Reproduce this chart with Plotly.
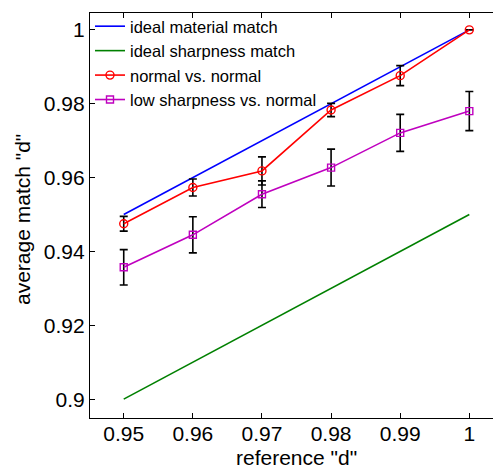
import plotly.graph_objects as go

ref_d = [0.95, 0.96, 0.97, 0.98, 0.99, 1.0]
ideal_material = [0.95, 0.96, 0.97, 0.98, 0.99, 1.0]
ideal_sharpness = [0.90, 0.91, 0.92, 0.93, 0.94, 0.95]
normal_mean = [0.9475, 0.9573, 0.9618, 0.9783, 0.9876, 1.0]
normal_err = [0.0020, 0.0023, 0.0038, 0.0018, 0.0027, 0.0]
lowsharp_mean = [0.9357, 0.9445, 0.9555, 0.9627, 0.9721, 0.9780]
lowsharp_err = [0.0048, 0.0049, 0.0036, 0.0050, 0.0050, 0.0053]

xticks = [0.95, 0.96, 0.97, 0.98, 0.99, 1.0]
xticklabels = ["0.95", "0.96", "0.97", "0.98", "0.99", "1"]
yticks = [0.90, 0.92, 0.94, 0.96, 0.98, 1.0]
yticklabels = ["0.9", "0.92", "0.94", "0.96", "0.98", "1"]
x_title = 'reference "d"'
y_title = 'average match "d"'

FONT = "Liberation Sans, Arial, Helvetica, sans-serif"

fig = go.Figure()
fig.add_trace(go.Scatter(x=ref_d, y=ideal_material, mode="lines",
                         name="ideal material match",
                         line=dict(color="#0000ff", width=1.6)))
fig.add_trace(go.Scatter(x=ref_d, y=ideal_sharpness, mode="lines",
                         name="ideal sharpness match",
                         line=dict(color="#008000", width=1.6)))
fig.add_trace(go.Scatter(x=ref_d, y=normal_mean, mode="lines+markers",
                         name="normal vs. normal",
                         line=dict(color="#ff0000", width=1.6),
                         marker=dict(symbol="circle-open", size=8, color="#ff0000",
                                     line=dict(width=1.4)),
                         error_y=dict(type="data", array=normal_err, visible=True,
                                      color="black", thickness=1.6, width=4)))
fig.add_trace(go.Scatter(x=ref_d, y=lowsharp_mean, mode="lines+markers",
                         name="low sharpness vs. normal",
                         line=dict(color="#bf00bf", width=1.6),
                         marker=dict(symbol="square-open", size=7, color="#bf00bf",
                                     line=dict(width=1.4)),
                         error_y=dict(type="data", array=lowsharp_err, visible=True,
                                      color="black", thickness=1.6, width=4)))

axis_common = dict(showline=True, linecolor="black", linewidth=1.2, mirror="ticks",
                   ticks="inside", ticklen=5, tickcolor="black", tickwidth=1,
                   showgrid=False, zeroline=False, automargin=False,
                   tickfont=dict(family=FONT, size=21, color="black"))

# page body has an 8px margin, so the figure is sized/offset to compensate
fig.update_layout(
    width=493, height=460,
    margin=dict(l=82, r=3, t=1, b=50),
    paper_bgcolor="white", plot_bgcolor="white",
    font=dict(family=FONT, color="black"),
    showlegend=True,
    legend=dict(x=0.0, y=1.01, xanchor="left", yanchor="top",
                bgcolor="rgba(255,255,255,0)", borderwidth=0,
                font=dict(family=FONT, size=16.5, color="black"),
                tracegroupgap=0, itemwidth=30),
    xaxis=dict(range=[0.94512, 1.00415], tickvals=xticks, ticktext=xticklabels,
               ticklabelstandoff=-3, **axis_common),
    yaxis=dict(range=[0.8949, 1.00456], tickvals=yticks, ticktext=yticklabels,
               **axis_common),
    annotations=[
        dict(text=x_title, xref="paper", yref="paper", x=0.505, y=-0.098,
             xanchor="center", yanchor="middle", showarrow=False, borderpad=0,
             font=dict(family=FONT, size=21, color="black")),
        dict(text=y_title, xref="paper", yref="paper", x=-0.167, y=0.491,
             xanchor="center", yanchor="middle", showarrow=False, textangle=-90,
             borderpad=0, font=dict(family=FONT, size=21, color="black")),
    ],
)

fig.write_html("out.html")
